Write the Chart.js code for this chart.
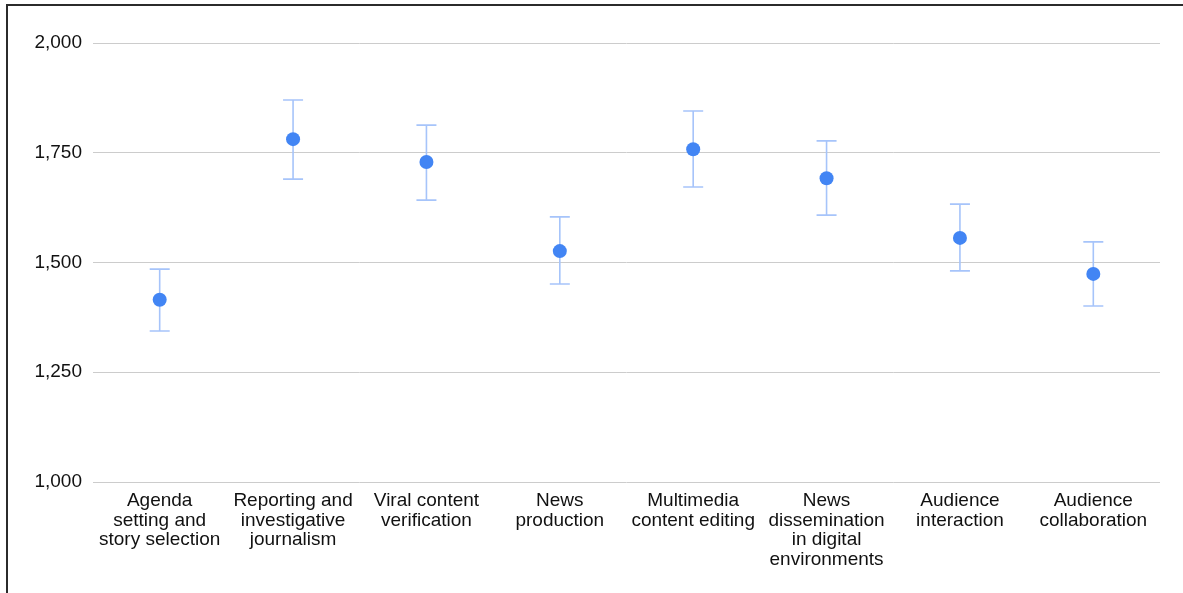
<!DOCTYPE html>
<html>
<head>
<meta charset="utf-8">
<script src="https://cdn.jsdelivr.net/npm/chart.js@4"></script>
<style>
  html, body { margin: 0; padding: 0; background: #fff; }
  .frame {
    position: absolute;
    left: 6px;
    top: 4px;
    width: 1177px;
    height: 589px;
    border-top: 2px solid #2b2b2b;
    border-left: 2px solid #2b2b2b;
    box-sizing: border-box;
  }
  .wrap { position: absolute; left: 0; top: 0; width: 1183px; height: 593px; }
</style>
</head>
<body>
<div class="frame"></div>
<div class="wrap"><canvas id="chart" width="1183" height="593"></canvas></div>
<script>
const categories = [
  ["Agenda", "setting and", "story selection"],
  ["Reporting and", "investigative", "journalism"],
  ["Viral content", "verification"],
  ["News", "production"],
  ["Multimedia", "content editing"],
  ["News", "dissemination", "in digital", "environments"],
  ["Audience", "interaction"],
  ["Audience", "collaboration"]
];
const means = [1415, 1781, 1729, 1526, 1758, 1692, 1556, 1474];
const lows = [1344, 1690, 1642, 1451, 1672, 1608, 1481, 1401];
const highs = [1485, 1870, 1813, 1604, 1845, 1777, 1633, 1547];
const yTicks = [1000, 1250, 1500, 1750, 2000];

// draws the whiskers behind the points
const errorBars = {
  id: "errorBars",
  beforeDatasetsDraw(chart) {
    const ctx = chart.ctx;
    const x = chart.scales.x;
    const y = chart.scales.y;
    ctx.save();
    ctx.strokeStyle = "#a6c4fa";
    ctx.lineWidth = 1.6;
    for (let i = 0; i < means.length; i++) {
      const px = x.getPixelForValue(i);
      const top = y.getPixelForValue(highs[i]);
      const bot = y.getPixelForValue(lows[i]);
      ctx.beginPath();
      ctx.moveTo(px, top);
      ctx.lineTo(px, bot);
      ctx.moveTo(px - 10, top);
      ctx.lineTo(px + 10, top);
      ctx.moveTo(px - 10, bot);
      ctx.lineTo(px + 10, bot);
      ctx.stroke();
    }
    ctx.restore();
  }
};

new Chart(document.getElementById("chart").getContext("2d"), {
  type: "line",
  data: {
    labels: categories,
    datasets: [
      {
        data: means,
        showLine: false,
        pointRadius: 7,
        pointHoverRadius: 7,
        pointBackgroundColor: "#4285f4",
        pointBorderColor: "#4285f4",
        pointBorderWidth: 0
      }
    ]
  },
  options: {
    responsive: false,
    animation: false,
    layout: { padding: { top: 43, right: 23, left: 0, bottom: 0 } },
    plugins: {
      legend: { display: false },
      tooltip: { enabled: false }
    },
    scales: {
      x: {
        offset: true,
        grid: { display: false },
        border: { display: false },
        ticks: {
          autoSkip: false,
          maxRotation: 0,
          padding: 1,
          color: "#111",
          font: { family: "Liberation Sans, Arial, sans-serif", size: 19, lineHeight: 1.03 }
        },
        afterFit: function (scale) {
          scale.height = 111;
        }
      },
      y: {
        min: yTicks[0],
        max: yTicks[yTicks.length - 1],
        afterBuildTicks: function (scale) {
          scale.ticks = yTicks.map(function (v) { return { value: v }; });
        },
        grid: { color: "#cccccc", drawTicks: false, lineWidth: 1 },
        border: { display: false },
        ticks: {
          padding: 11,
          color: "#111",
          font: { family: "Liberation Sans, Arial, sans-serif", size: 19 },
          callback: function (value) {
            return value.toLocaleString("en-US");
          }
        },
        afterFit: function (scale) {
          scale.width = 93;
        }
      }
    }
  },
  plugins: [errorBars]
});
</script>
</body>
</html>
